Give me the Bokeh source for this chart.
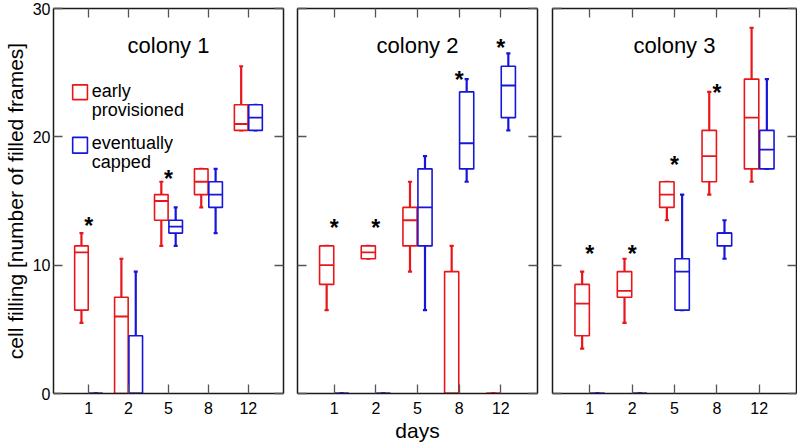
from bokeh.plotting import figure
from bokeh.models import (Range1d, LinearAxis, FixedTicker, CustomJSTickFormatter,
                          ColumnDataSource, Label, BoxAnnotation)
from bokeh.layouts import row
from bokeh.embed import file_html
from bokeh.resources import INLINE
from bokeh.core.properties import value

# ---------------- data ----------------
days = ["1", "2", "5", "8", "12"]
colony_titles = ["colony 1", "colony 2", "colony 3"]
group_names = ["early provisioned", "eventually capped"]

# each entry: (whisker low, q1, median, q3, whisker high) for days 1,2,5,8,12
c1_early = [(5.5, 6.5, 11.0, 11.5, 12.5), (0, 0, 6.0, 7.5, 10.5), (11.5, 13.5, 15.0, 15.5, 16.5),
            (14.5, 15.5, 16.5, 17.5, 17.5), (20.5, 20.5, 21.0, 22.5, 25.5)]
c1_capped = [(0, 0, 0, 0, 0), (0, 0, 0, 4.5, 9.5), (11.5, 12.5, 13.0, 13.5, 14.5),
             (12.5, 14.5, 15.5, 16.5, 17.5), (20.5, 20.5, 21.5, 22.5, 22.5)]
c2_early = [(6.5, 8.5, 10.0, 11.5, 11.5), (10.5, 10.5, 11.0, 11.5, 11.5), (9.5, 11.5, 13.5, 14.5, 16.5),
            (0, 0, 0, 9.5, 11.5), (0, 0, 0, 0, 0)]
c2_capped = [(0, 0, 0, 0, 0), (0, 0, 0, 0, 0), (6.5, 11.5, 14.5, 17.5, 18.5),
             (16.5, 17.5, 19.5, 23.5, 24.5), (20.5, 21.5, 24.0, 25.5, 26.5)]
c3_early = [(3.5, 4.5, 7.0, 8.5, 9.5), (5.5, 7.5, 8.0, 9.5, 10.5), (13.5, 14.5, 15.5, 16.5, 16.5),
            (15.5, 16.5, 18.5, 20.5, 23.5), (16.5, 17.5, 21.5, 24.5, 28.5)]
c3_capped = [(0, 0, 0, 0, 0), (0, 0, 0, 0, 0), (6.5, 6.5, 9.5, 10.5, 15.5),
             (10.5, 11.5, 12.5, 12.5, 13.5), (17.5, 17.5, 19.0, 20.5, 24.5)]

# significance stars: day labels and heights
c1_star_days = ["1", "5"]
c1_star_y = [13.5, 17.2]
c2_star_days = ["1", "2", "8", "12"]
c2_star_y = [13.4, 13.4, 24.9, 27.4]
c3_star_days = ["1", "2", "5", "8"]
c3_star_y = [11.3, 11.3, 18.3, 23.9]

y_ticks = [0, 10, 20, 30]
x_title = "days"
y_title = "cell filling [number of filled frames]"

# ---------------- style ----------------
RED = "#e8161b"
BLUE = "#1616d8"
FONT = "Liberation Sans"
H = 445
TOP = 8
BOTTOM = 52
BOX_W = 0.34
OFFSET = 0.18
CAP = 0.05

pos = [i + 1 for i in range(len(days))]
pos_of = dict(zip(days, pos))


def style_axis(ax, show_labels):
    ax.axis_line_width = 1.5
    ax.axis_line_color = "#1a1a1a"
    ax.major_tick_in = 9
    ax.major_tick_out = 0
    ax.major_tick_line_width = 1.3
    ax.major_tick_line_color = "#555555"
    ax.minor_tick_line_color = None
    ax.major_label_text_font = FONT
    ax.major_label_text_font_size = "16px"
    ax.major_label_text_color = "black"
    ax.axis_label_text_font = FONT
    ax.axis_label_text_font_style = "normal"
    ax.axis_label_text_color = "black"
    if not show_labels:
        ax.formatter = CustomJSTickFormatter(code="return ''")
        ax.major_label_standoff = 0


def draw_group(p, boxes, off, color):
    c = [x + off for x in pos]
    src = ColumnDataSource(dict(
        c=c,
        left=[v - BOX_W / 2 for v in c],
        right=[v + BOX_W / 2 for v in c],
        cl=[v - CAP for v in c],
        cr=[v + CAP for v in c],
        wlo=[b[0] for b in boxes],
        q1=[b[1] for b in boxes],
        med=[b[2] for b in boxes],
        q3=[b[3] for b in boxes],
        whi=[b[4] for b in boxes],
    ))
    p.segment(x0="c", x1="c", y0="q3", y1="whi", source=src, line_color=color, line_width=2.2)
    p.segment(x0="c", x1="c", y0="wlo", y1="q1", source=src, line_color=color, line_width=2.2)
    p.segment(x0="cl", x1="cr", y0="whi", y1="whi", source=src, line_color=color, line_width=2.2)
    p.segment(x0="cl", x1="cr", y0="wlo", y1="wlo", source=src, line_color=color, line_width=2.2)
    p.quad(left="left", right="right", bottom="q1", top="q3", source=src,
           fill_color="white", line_color=color, line_width=1.6)
    p.segment(x0="left", x1="right", y0="med", y1="med", source=src, line_color=color, line_width=1.8)


def make_panel(title, early, capped, star_days, star_y, width, bl, br, first, xlabel):
    p = figure(width=width, height=H, x_range=Range1d(0.12, 5.88), y_range=Range1d(0, 30),
               output_backend="svg", toolbar_location=None,
               min_border_left=bl, min_border_right=br, min_border_top=TOP, min_border_bottom=BOTTOM)
    p.background_fill_color = "white"
    p.border_fill_color = "white"
    p.outline_line_color = None
    p.grid.visible = False

    xa = p.xaxis[0]
    xa.ticker = FixedTicker(ticks=pos)
    xa.major_label_overrides = {x: d for x, d in zip(pos, days)}
    style_axis(xa, True)
    xa.major_label_standoff = 8
    if xlabel:
        xa.axis_label = xlabel
        xa.axis_label_text_font_size = "21px"
        xa.axis_label_standoff = 2

    ya = p.yaxis[0]
    ya.ticker = FixedTicker(ticks=y_ticks)
    style_axis(ya, first)
    if first:
        ya.major_label_standoff = 3
        ya.axis_label = y_title
        ya.axis_label_text_font_size = "21px"
        ya.axis_label_standoff = 3

    top = LinearAxis(ticker=FixedTicker(ticks=pos))
    style_axis(top, False)
    p.add_layout(top, "above")
    right = LinearAxis(ticker=FixedTicker(ticks=y_ticks))
    style_axis(right, False)
    p.add_layout(right, "right")

    draw_group(p, early, -OFFSET, RED)
    draw_group(p, capped, OFFSET, BLUE)

    ssrc = ColumnDataSource(dict(x=[pos_of[d] for d in star_days], y=star_y,
                                 t=["*"] * len(star_days)))
    p.text(x="x", y="y", text="t", source=ssrc, text_font=value(FONT), text_font_size="23px",
           text_font_style="bold", text_align="center", text_baseline="middle", y_offset=6,
           text_color="black")

    p.add_layout(Label(x=3, y=27.1, text=title, text_font=FONT, text_font_size="22px",
                       text_align="center", text_baseline="alphabetic", text_color="black"))
    return p


p1 = make_panel(colony_titles[0], c1_early, c1_capped, c1_star_days, c1_star_y, 290, 51, 7, True, None)
p2 = make_panel(colony_titles[1], c2_early, c2_capped, c2_star_days, c2_star_y, 254, 7, 7, False, x_title)
p3 = make_panel(colony_titles[2], c3_early, c3_capped, c3_star_days, c3_star_y, 253, 8, 1, False, None)

# legend in panel 1
for (top_v, bot_v, color, lines, base) in [
        (24.05, 22.9, RED, group_names[0].split(" "), [23.6, 22.12]),
        (19.96, 18.73, BLUE, group_names[1].split(" "), [19.5, 18.03])]:
    p1.add_layout(BoxAnnotation(left=0.6, right=0.97, top=top_v, bottom=bot_v,
                                fill_color=None, line_color=color, line_alpha=1.0, line_width=1.6))
    for txt, yb in zip(lines, base):
        p1.add_layout(Label(x=1.08, y=yb, text=txt, text_font=FONT, text_font_size="18px",
                            text_align="left", text_baseline="alphabetic", text_color="black"))

layout = row(p1, p2, p3)
open("out.html", "w").write(file_html(layout, INLINE))
